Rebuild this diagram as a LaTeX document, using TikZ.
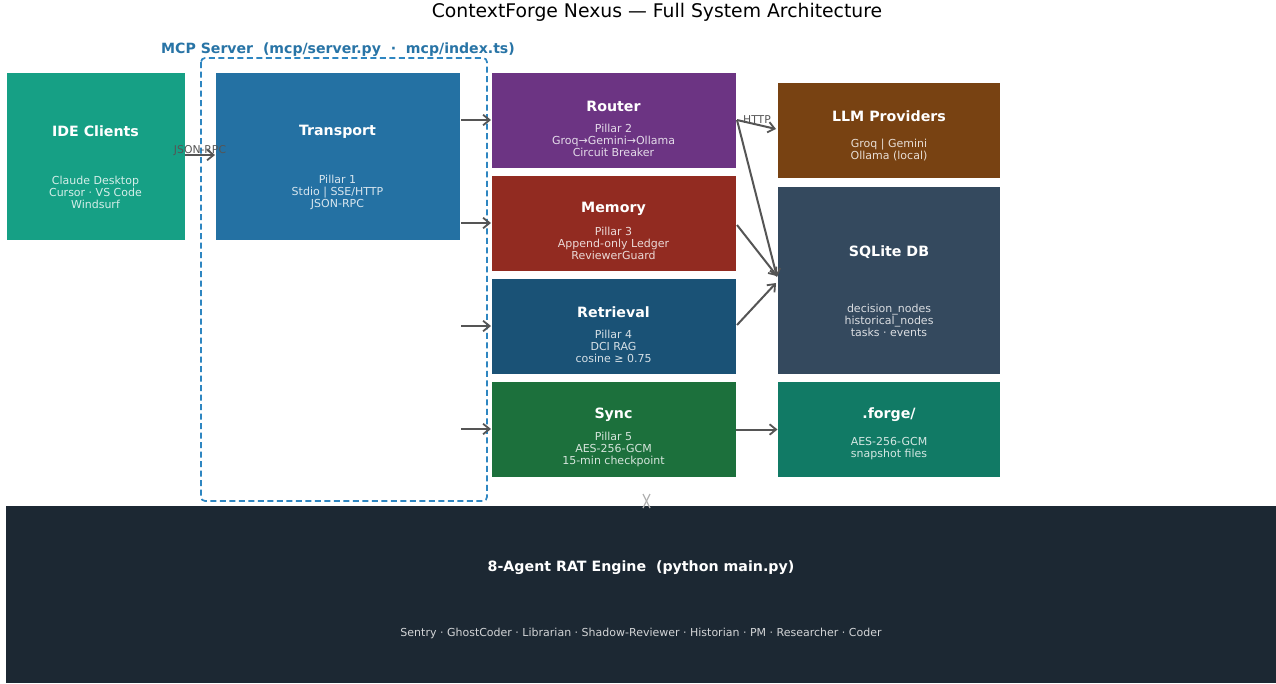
\documentclass[tikz,border=0pt]{standalone}
\usepackage{fontspec}
\setmainfont{DejaVu Sans}
\usetikzlibrary{arrows.meta}
\definecolor{cide}{HTML}{16A085}
\definecolor{ctrans}{HTML}{2471A3}
\definecolor{crouter}{HTML}{6C3483}
\definecolor{cmem}{HTML}{922B21}
\definecolor{cret}{HTML}{1A5276}
\definecolor{csync}{HTML}{1C703C}
\definecolor{cllm}{HTML}{784212}
\definecolor{cdb}{HTML}{34495E}
\definecolor{cforge}{HTML}{117A65}
\definecolor{ceng}{HTML}{1C2833}
\definecolor{cmcp}{HTML}{2E86C1}
\definecolor{cmcplab}{HTML}{2874A6}
\definecolor{carrow}{HTML}{555555}
\tikzset{
  box/.style={rectangle, draw=white, line width=0.6pt, inner sep=0pt, outer sep=0pt},
  ttl/.style={font=\fontsize{14.2}{16}\selectfont\bfseries, text=white, inner sep=0pt},
  sub/.style={font=\fontsize{11}{12}\selectfont, align=center, inner sep=0pt},
  conn/.style={draw=carrow, line width=2pt, -{Straight Barb[length=6.5pt,width=10.5pt,line width=1.8pt]}},
  clab/.style={font=\fontsize{10.8}{12}\selectfont, text=carrow, inner sep=0pt},
}
\begin{document}
\begin{tikzpicture}[x=1pt,y=-1pt]
\useasboundingbox (0,0) rectangle (1276,683);
\fill[white] (0,0) rectangle (1276,683);

% title
\node[font=\fontsize{18.8}{22}\selectfont, inner sep=0pt] (title) at (657,12) {ContextForge Nexus — Full System Architecture};

% MCP container
\draw[cmcp, line width=1.7pt, dash pattern=on 6pt off 3.5pt, rounded corners=4pt] (201,58) rectangle (487,501);
\node[font=\fontsize{14.1}{16}\selectfont\bfseries, text=cmcplab, anchor=west, inner sep=0pt] (mcplab) at (161,50) {MCP Server\ \ (mcp/server.py\ \ ·\ \ mcp/index.ts)};

% boxes
\node[box, fill=cide, minimum width=179, minimum height=168] (ide) at (95.5,156) {};
\node[ttl] (idet) at (95.5,131.5) {IDE Clients};
\node[sub, text=white!82!cide] (ides) at (95.5,192) {Claude Desktop\\Cursor · VS Code\\Windsurf};

\node[box, fill=ctrans, minimum width=245, minimum height=168] (trans) at (337.5,156) {};
\node[ttl] (transt) at (337.5,131.5) {Transport};
\node[sub, text=white!82!ctrans] (transs) at (337.5,192) {Pillar 1\\Stdio | SSE/HTTP\\JSON-RPC};

\node[box, fill=crouter, minimum width=245, minimum height=96] (router) at (613.5,120) {};
\node[ttl] (routert) at (613.5,106) {Router};
\node[sub, text=white!82!crouter] (routers) at (613.5,140) {Pillar 2\\Groq→Gemini→Ollama\\Circuit Breaker};

\node[box, fill=cmem, minimum width=245, minimum height=96] (mem) at (613.5,223.5) {};
\node[ttl] (memt) at (613.5,209) {Memory};
\node[sub, text=white!82!cmem] (mems) at (613.5,243) {Pillar 3\\Append-only Ledger\\ReviewerGuard};

\node[box, fill=cret, minimum width=245, minimum height=96] (ret) at (613.5,326.5) {};
\node[ttl] (rett) at (613.5,312) {Retrieval};
\node[sub, text=white!82!cret] (rets) at (613.5,346) {Pillar 4\\DCI RAG\\cosine ≥ 0.75};

\node[box, fill=csync, minimum width=245, minimum height=96] (sync) at (613.5,429.5) {};
\node[ttl] (synct) at (613.5,415) {Sync};
\node[sub, text=white!82!csync] (syncs) at (613.5,449) {Pillar 5\\AES-256-GCM\\15-min checkpoint};

\node[box, fill=cllm, minimum width=223, minimum height=96] (llm) at (889,130.5) {};
\node[ttl] (llmt) at (889,116) {LLM Providers};
\node[sub, text=white!82!cllm] (llms) at (889,150) {Groq | Gemini\\Ollama (local)};

\node[box, fill=cdb, minimum width=223, minimum height=188] (db) at (889,280) {};
\node[ttl] (dbt) at (889,252) {SQLite DB};
\node[sub, text=white!82!cdb] (dbs) at (889,320) {decision\_nodes\\historical\_nodes\\tasks · events};

\node[box, fill=cforge, minimum width=223, minimum height=96] (forge) at (889,429.5) {};
\node[ttl] (forget) at (889,415) {.forge/};
\node[sub, text=white!82!cforge] (forges) at (889,449) {AES-256-GCM\\snapshot files};

\node[box, draw=none, fill=ceng, minimum width=1270, minimum height=177, anchor=north west] (eng) at (6,506) {};
\node[ttl] (engt) at (641,567.5) {8-Agent RAT Engine\ \ (python main.py)};
\node[sub, text=white!80!ceng] (engs) at (641,633) {Sentry · GhostCoder · Librarian · Shadow-Reviewer · Historian · PM · Researcher · Coder};

% connectors
\draw[conn] (ide.east |- 0,155) -- (trans.west |- 0,155);
\node[clab] (jrpc) at (200,151) {JSON-RPC};

\coordinate (t1) at (461,120);
\coordinate (t2) at (461,223);
\coordinate (t3) at (461,326);
\coordinate (t4) at (461,429);
\draw[conn] (t1) -- (router.west |- t1);
\draw[conn] (t2) -- (mem.west |- t2);
\draw[conn] (t3) -- (ret.west |- t3);
\draw[conn] (t4) -- (sync.west |- t4);

\coordinate (r1) at (737,120);
\draw[conn] (r1) -- (776,129);
\node[clab] (http) at (757,120) {HTTP};
\draw[conn] (r1) -- (777,277);
\draw[conn] (737,225) -- (777,276);
\draw[conn] (737,325) -- (776,283);
\draw[conn] (sync.east) -- (forge.west);

% small marker
\coordinate (xa) at (643,494);
\coordinate (xb) at (650,508);
\coordinate (xc) at (650,494);
\coordinate (xd) at (643,508);
\draw[gray!60, line width=1.2pt] (xa) -- (646.5,501) -- (xd);
\draw[gray!60, line width=1.2pt] (xc) -- (646.5,501) -- (xb);
\end{tikzpicture}
\end{document}
